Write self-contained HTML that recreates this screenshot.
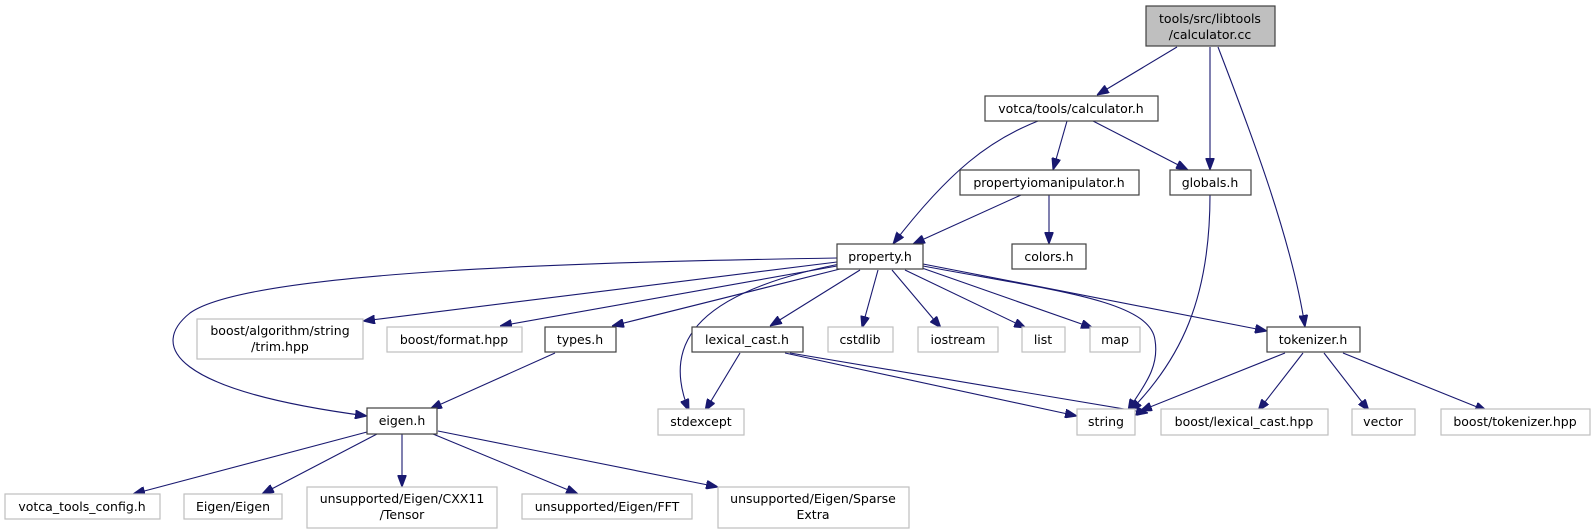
<!DOCTYPE html>
<html><head><meta charset="utf-8"><style>
html,body{margin:0;padding:0;background:#fff;}
svg{display:block;}
text{font-family:"DejaVu Sans","Liberation Sans",sans-serif;font-size:12.5px;fill:#000;text-anchor:middle;}
.b{fill:#fff;stroke:#404040;stroke-width:1.2;}
.g{fill:#fff;stroke:#bfbfbf;stroke-width:1.2;}
.e{fill:none;stroke:#191970;stroke-width:1.1;}
</style></head><body>
<svg width="1591" height="529" viewBox="0 0 1591 529" xmlns="http://www.w3.org/2000/svg">
<defs><marker id="a" markerWidth="12" markerHeight="9" refX="12" refY="4.5" orient="auto" markerUnits="userSpaceOnUse"><path d="M0,0 L12,4.5 L0,9 z" fill="#191970" stroke="#191970"/></marker></defs>
<g marker-end="url(#a)">
<path class="e" d="M1177,47 L1097,95"/>
<path class="e" d="M1210,47 L1210,170"/>
<path class="e" d="M1218,47 C1250,130 1292,240 1305,327"/>
<path class="e" d="M1038,121 C990,140 950,170 893,244"/>
<path class="e" d="M1067,121 L1053,170"/>
<path class="e" d="M1093,121 L1188,170"/>
<path class="e" d="M1021,195 L913,244"/>
<path class="e" d="M1049,195 L1049,244"/>
<path class="e" d="M1210,195 C1210,300 1180,360 1130,411"/>
<path class="e" d="M837,258 C600,262 250,270 190,313 C150,345 170,390 367,416"/>
<path class="e" d="M837,262 L363,321"/>
<path class="e" d="M837,266 L500,326"/>
<path class="e" d="M840,269 L612,326"/>
<path class="e" d="M850,262 C700,290 660,340 689,411"/>
<path class="e" d="M860,270 L770,326"/>
<path class="e" d="M878,270 L862,328"/>
<path class="e" d="M892,270 L941,328"/>
<path class="e" d="M905,270 L1026,328"/>
<path class="e" d="M922,268 L1093,328"/>
<path class="e" d="M923,264 L1267,331"/>
<path class="e" d="M923,266 C1050,290 1150,300 1155,340 C1160,370 1140,390 1128,411"/>
<path class="e" d="M555,353 L430,409"/>
<path class="e" d="M740,353 L705,411"/>
<path class="e" d="M785,353 L1077,416"/>
<path class="e" d="M790,353 L1148,413"/>
<path class="e" d="M1285,353 L1140,411"/>
<path class="e" d="M1303,353 L1258,411"/>
<path class="e" d="M1324,353 L1369,411"/>
<path class="e" d="M1343,353 L1487,411"/>
<path class="e" d="M367,432 L133,494"/>
<path class="e" d="M377,434 L262,494"/>
<path class="e" d="M402,434 L402,487"/>
<path class="e" d="M433,434 L578,494"/>
<path class="e" d="M438,431 L718,487"/>
</g>
<rect x="1146" y="6" width="129" height="40" fill="#bfbfbf" stroke="#404040" stroke-width="1.2"/>
<text x="1210" y="23">tools/src/libtools</text><text x="1210" y="39">/calculator.cc</text>
<rect class="b" x="985" y="96" width="173" height="25"/><text x="1071" y="113">votca/tools/calculator.h</text>
<rect class="b" x="960" y="170" width="179" height="25"/><text x="1049" y="187">propertyiomanipulator.h</text>
<rect class="b" x="1170" y="170" width="81" height="25"/><text x="1210" y="187">globals.h</text>
<rect class="b" x="837" y="244" width="86" height="25"/><text x="880" y="261">property.h</text>
<rect class="b" x="1012" y="244" width="74" height="25"/><text x="1049" y="261">colors.h</text>
<rect class="g" x="197" y="319" width="166" height="40"/><text x="280" y="335">boost/algorithm/string</text><text x="280" y="351">/trim.hpp</text>
<rect class="g" x="387" y="327" width="135" height="25"/><text x="454" y="344">boost/format.hpp</text>
<rect class="b" x="545" y="327" width="71" height="25"/><text x="580" y="344">types.h</text>
<rect class="b" x="692" y="327" width="111" height="25"/><text x="747" y="344">lexical_cast.h</text>
<rect class="g" x="828" y="327" width="65" height="25"/><text x="860" y="344">cstdlib</text>
<rect class="g" x="918" y="327" width="80" height="25"/><text x="958" y="344">iostream</text>
<rect class="g" x="1022" y="327" width="43" height="25"/><text x="1043" y="344">list</text>
<rect class="g" x="1090" y="327" width="50" height="25"/><text x="1115" y="344">map</text>
<rect class="b" x="1267" y="327" width="93" height="25"/><text x="1313" y="344">tokenizer.h</text>
<rect class="b" x="367" y="408" width="70" height="26"/><text x="402" y="425">eigen.h</text>
<rect class="g" x="658" y="409" width="86" height="26"/><text x="701" y="426">stdexcept</text>
<rect class="g" x="1077" y="409" width="58" height="26"/><text x="1106" y="426">string</text>
<rect class="g" x="1161" y="409" width="167" height="26"/><text x="1244" y="426">boost/lexical_cast.hpp</text>
<rect class="g" x="1352" y="409" width="63" height="26"/><text x="1383" y="426">vector</text>
<rect class="g" x="1441" y="409" width="149" height="26"/><text x="1515" y="426">boost/tokenizer.hpp</text>
<rect class="g" x="5" y="494" width="155" height="25"/><text x="82" y="511">votca_tools_config.h</text>
<rect class="g" x="184" y="494" width="98" height="25"/><text x="233" y="511">Eigen/Eigen</text>
<rect class="g" x="307" y="487" width="190" height="41"/><text x="402" y="503">unsupported/Eigen/CXX11</text><text x="402" y="519">/Tensor</text>
<rect class="g" x="522" y="494" width="170" height="25"/><text x="607" y="511">unsupported/Eigen/FFT</text>
<rect class="g" x="718" y="487" width="191" height="41"/><text x="813" y="503">unsupported/Eigen/Sparse</text><text x="813" y="519">Extra</text>
</svg>
</body></html>
